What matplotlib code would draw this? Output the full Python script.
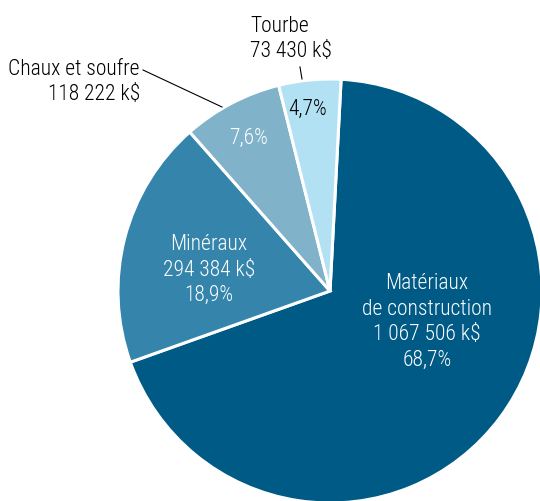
import matplotlib.pyplot as plt

# données
categories = ["Matériaux\nde construction", "Minéraux", "Chaux et soufre", "Tourbe"]
valeurs = [1067506, 294384, 118222, 73430]
couleurs = ["#005a86", "#3484ac", "#80b2ca", "#b3e1f4"]

plt.rcParams['font.family'] = ['Roboto Condensed', 'Liberation Sans Narrow',
                               'Roboto', 'DejaVu Sans']
plt.rcParams['font.weight'] = 'light'

total = sum(valeurs)


def kdollars(v):
    return "{:,}".format(v).replace(",", " ") + " k$"


def pct(v):
    return "{:.1f}%".format(v / total * 100).replace(".", ",")


fig = plt.figure(figsize=(5.4, 5.01), dpi=100)
ax = fig.add_axes([0, 0, 1, 1])

# axes en pixels, origine en bas a gauche
ax.pie(valeurs, colors=couleurs, startangle=87, counterclock=False,
       center=(330, 210), radius=212, frame=True,
       wedgeprops=dict(edgecolor='white', linewidth=2.2))
ax.set_xlim(0, 540)
ax.set_ylim(0, 501)
ax.set_aspect('equal')
ax.axis('off')

fs = 15.5
ls = 1.3
# étiquettes à l'intérieur
ax.text(427, 501 - 322, categories[0] + "\n" + kdollars(valeurs[0]) + "\n" + pct(valeurs[0]),
        ha='center', va='center', color='white', fontsize=fs, linespacing=ls)
ax.text(209, 501 - 270, categories[1] + "\n" + kdollars(valeurs[1]) + "\n" + pct(valeurs[1]),
        ha='center', va='center', color='white', fontsize=fs, linespacing=ls)
ax.text(249, 501 - 138, pct(valeurs[2]), ha='center', va='center',
        color='white', fontsize=fs)
ax.text(308, 501 - 109, pct(valeurs[3]), ha='center', va='center',
        color='black', fontsize=fs)

# étiquettes extérieures
ax.text(140, 501 - 82, categories[2] + "\n" + kdollars(valeurs[2]),
        ha='right', va='center', multialignment='right', color='black',
        fontsize=fs, linespacing=ls)
ax.plot([143, 222], [501 - 70, 501 - 107], color='black', lw=0.8)
ax.text(250, 501 - 39, categories[3] + "\n" + kdollars(valeurs[3]),
        ha='left', va='center', multialignment='left', color='black',
        fontsize=fs, linespacing=ls)
ax.plot([300, 302], [501 - 67, 501 - 79], color='black', lw=0.8)

plt.savefig('out.png', dpi=100)
